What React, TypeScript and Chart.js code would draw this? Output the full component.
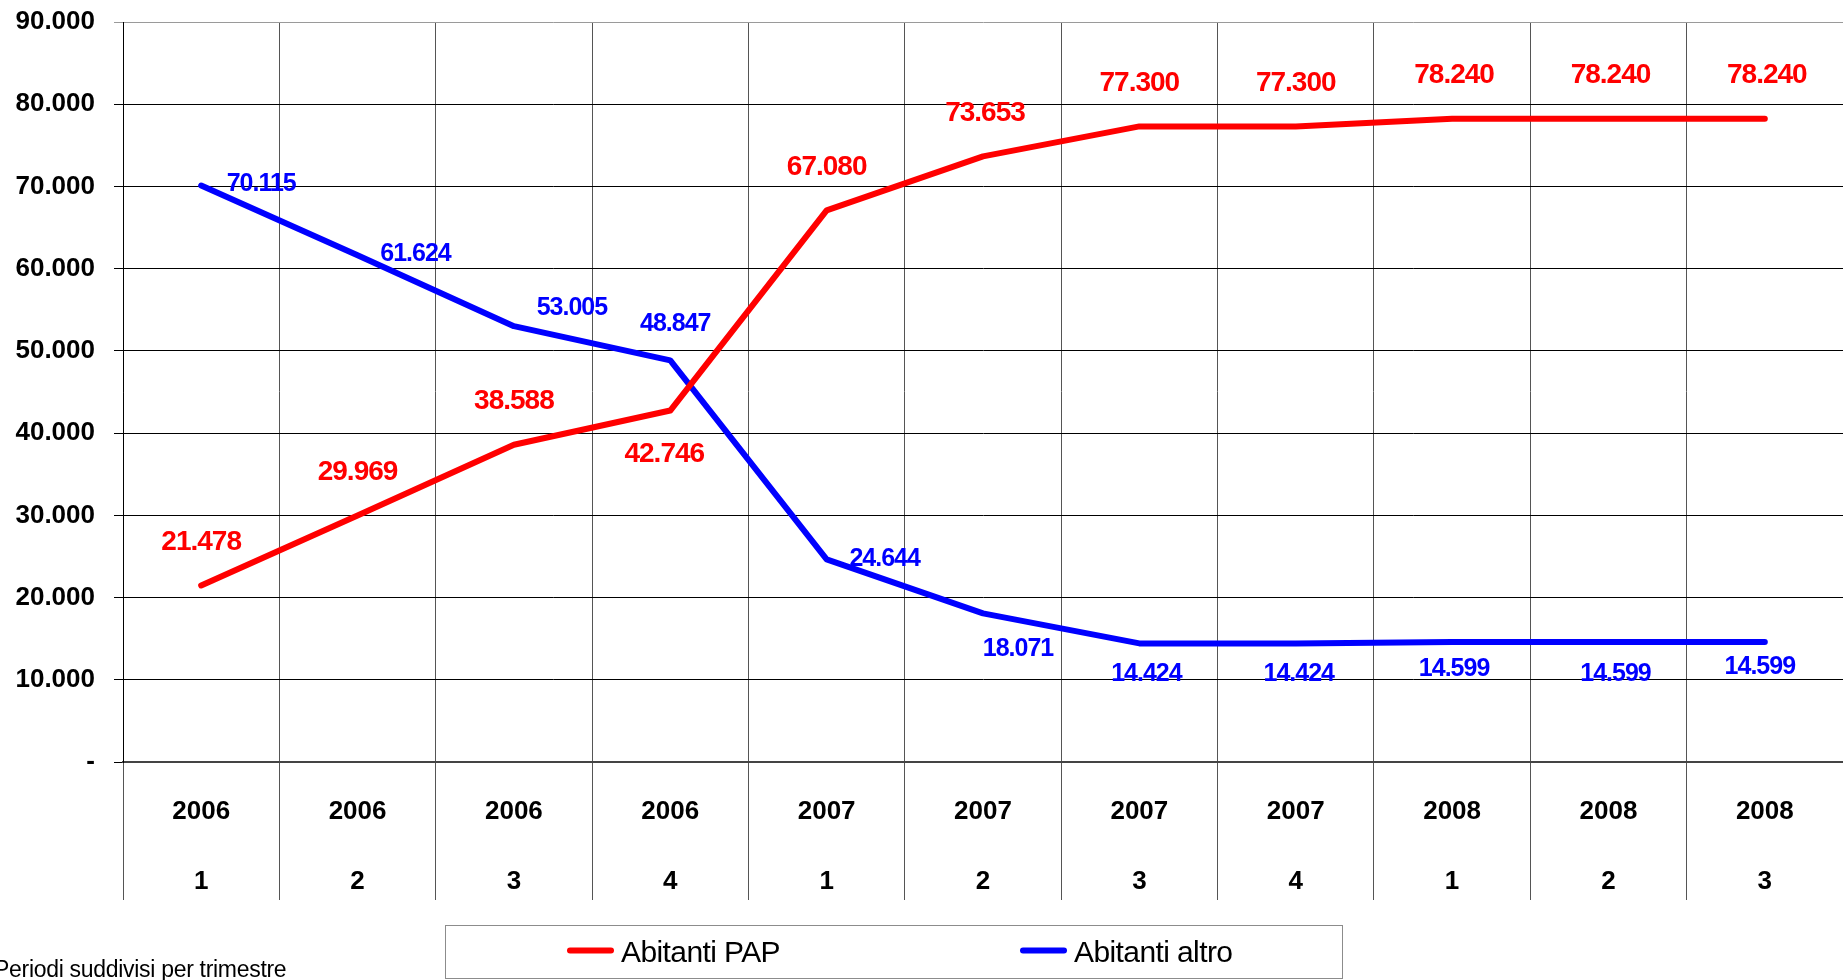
import { useEffect, useRef } from "react";
import { Chart, registerables } from "chart.js";

Chart.register(...registerables);

// ---- Data ----
const years = ["2006", "2006", "2006", "2006", "2007", "2007", "2007", "2007", "2008", "2008", "2008"];
const quarters = ["1", "2", "3", "4", "1", "2", "3", "4", "1", "2", "3"];
const abitantiPAP = [21478, 29969, 38588, 42746, 67080, 73653, 77300, 77300, 78240, 78240, 78240];
const abitantiAltro = [70115, 61624, 53005, 48847, 24644, 18071, 14424, 14424, 14599, 14599, 14599];
const seriesNames = ["Abitanti PAP", "Abitanti altro"];
const seriesColors = ["#FF0000", "#0000FF"];
const yMin = 0;
const yMax = 90000;
const yStep = 10000;
const footnote = "Periodi suddivisi per trimestre";

// ---- Label placement (style, px offsets from each point) ----
const papLabelOffsets = [[0, -43], [0, -43], [0, -43], [-6, 44], [0, -43], [2, -43], [0, -43], [0, -43], [2, -43], [2, -43], [2, -43]];
const altroLabelOffsets = [[60, -1], [58, -1], [58, -18], [5, -36], [58, 0], [35, 36], [7, 31], [3, 31], [2, 27], [7, 32], [-5, 25]];

const FONT = "'Liberation Sans', Arial, Helvetica, sans-serif";

const fmt = (v: number) =>
  v === 0 ? "-" : String(Math.round(v)).replace(/\B(?=(\d{3})+(?!\d))/g, ".");

const labelsPlugin = {
  id: "valueLabels",
  afterDatasetsDraw(chart: any) {
    const ctx = chart.ctx;
    const specs = [
      { offsets: papLabelOffsets, size: 28 },
      { offsets: altroLabelOffsets, size: 25 },
    ];
    chart.data.datasets.forEach((ds: any, di: number) => {
      const meta = chart.getDatasetMeta(di);
      const spec = specs[di];
      ctx.save();
      ctx.font = `bold ${spec.size}px ${FONT}`;
      (ctx as any).letterSpacing = "-1px";
      ctx.fillStyle = ds.borderColor;
      ctx.textAlign = "center";
      ctx.textBaseline = "middle";
      meta.data.forEach((pt: any, i: number) => {
        const [dx, dy] = spec.offsets[i];
        ctx.fillText(fmt(ds.data[i]), pt.x + dx, pt.y + dy);
      });
      ctx.restore();
    });
  },
};

const legendPlugin = {
  id: "boxLegend",
  afterDraw(chart: any) {
    const ctx = chart.ctx;
    ctx.save();
    // legend box
    ctx.strokeStyle = "#8c8c8c";
    ctx.lineWidth = 1;
    ctx.strokeRect(445.5, 925.5, 897, 53);
    const items = [
      { x: 567, name: seriesNames[0], color: seriesColors[0] },
      { x: 1020, name: seriesNames[1], color: seriesColors[1] },
    ];
    items.forEach((it) => {
      ctx.strokeStyle = it.color;
      ctx.lineWidth = 6;
      ctx.lineCap = "round";
      ctx.beginPath();
      ctx.moveTo(it.x + 3, 950.5);
      ctx.lineTo(it.x + 44, 950.5);
      ctx.stroke();
      ctx.fillStyle = "#000";
      ctx.font = `30px ${FONT}`;
      (ctx as any).letterSpacing = "-0.6px";
      ctx.textAlign = "left";
      ctx.textBaseline = "alphabetic";
      ctx.fillText(it.name, it.x + 54, 962);
    });
    // footnote
    ctx.fillStyle = "#000";
    ctx.font = `23px ${FONT}`;
    (ctx as any).letterSpacing = "-0.3px";
    ctx.textAlign = "left";
    ctx.textBaseline = "alphabetic";
    ctx.fillText(footnote, -6, 977);
    ctx.restore();
  },
};

export default function App() {
  const canvasRef = useRef<HTMLCanvasElement | null>(null);

  useEffect(() => {
    document.body.style.margin = "0";
    const canvas = canvasRef.current;
    if (!canvas) return;
    const labels = years.map((y, i) => [y, quarters[i]]);
    const chart = new Chart(canvas, {
      type: "line",
      data: {
        labels,
        datasets: [
          {
            label: seriesNames[0],
            data: abitantiPAP,
            borderColor: seriesColors[0],
            backgroundColor: seriesColors[0],
            borderWidth: 6,
            pointRadius: 0,
            tension: 0,
            borderJoinStyle: "round",
            borderCapStyle: "round",
            fill: false,
          },
          {
            label: seriesNames[1],
            data: abitantiAltro,
            borderColor: seriesColors[1],
            backgroundColor: seriesColors[1],
            borderWidth: 6,
            pointRadius: 0,
            tension: 0,
            borderJoinStyle: "round",
            borderCapStyle: "round",
            fill: false,
          },
        ],
      },
      options: {
        responsive: false,
        animation: false,
        devicePixelRatio: 1,
        layout: { padding: { top: 22, bottom: 80, left: 0, right: 0 } },
        plugins: {
          legend: { display: false },
          tooltip: { enabled: false },
          title: { display: false },
        },
        scales: {
          x: {
            type: "category",
            offset: true,
            grid: {
              offset: true,
              color: "#555",
              lineWidth: 1,
              tickLength: 138,
              drawTicks: true,
            },
            border: { color: "#444", width: 2 },
            ticks: {
              color: "#000",
              padding: -123,
              maxRotation: 0,
              minRotation: 0,
              autoSkip: false,
              font: { family: FONT, size: 26, weight: "bold", lineHeight: 70 / 26 },
            },
            afterFit(scale: any) {
              scale.height = 138;
            },
          },
          y: {
            min: yMin,
            max: yMax,
            grid: {
              color: (c: any) => (c.tick && c.tick.value === yMax ? "#9a9a9a" : "#000"),
              lineWidth: 1,
              tickLength: 9,
            },
            border: { color: "#000", width: 1 },
            ticks: {
              stepSize: yStep,
              color: "#000",
              padding: 19,
              font: { family: FONT, size: 26, weight: "bold" },
              callback: (v: any) => fmt(Number(v)),
            },
            afterFit(scale: any) {
              scale.width = 123;
              scale.paddingTop = 0;
              scale.paddingBottom = 0;
            },
          },
        },
      },
      plugins: [labelsPlugin, legendPlugin],
    } as any);
    return () => chart.destroy();
  }, []);

  return (
    <div style={{ width: 1843, height: 980 }}>
      <canvas ref={canvasRef} width={1843} height={980} style={{ display: "block" }} />
    </div>
  );
}
